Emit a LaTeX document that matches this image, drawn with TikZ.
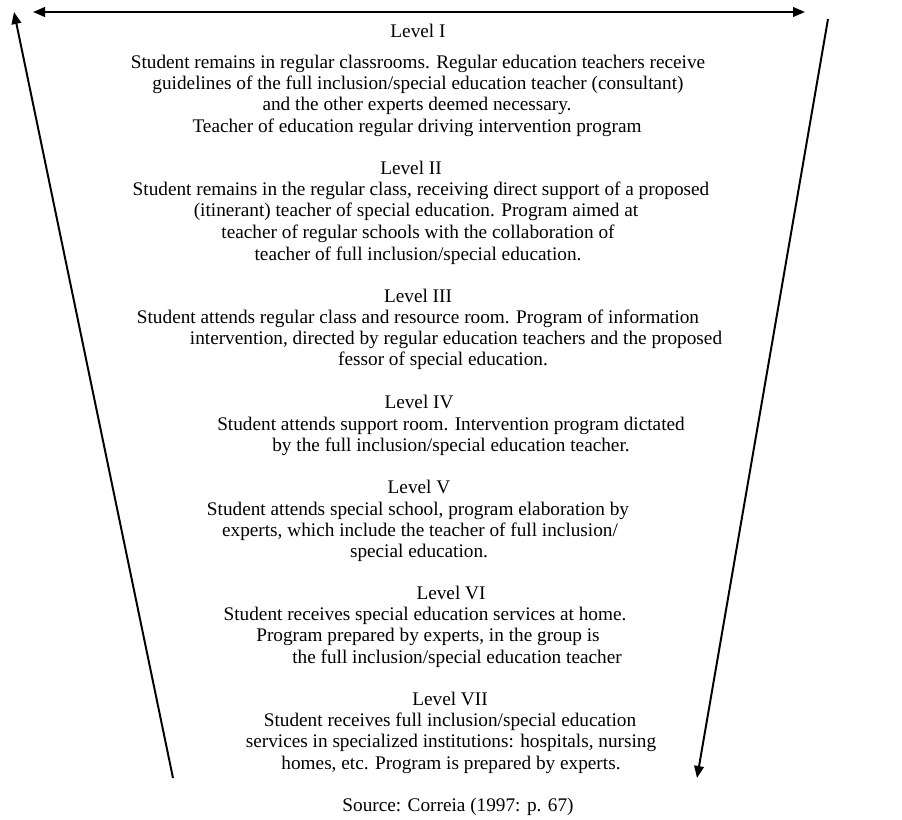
\documentclass[tikz,border=0pt]{standalone}
\usepackage{fontspec}
\setmainfont{Liberation Serif}
\usetikzlibrary{arrows.meta}
\tikzset{
  txt/.style={inner sep=0pt,text height=1.6ex,text depth=0.45ex,yshift=-0.7mm,font=\fontsize{13.7}{16}\selectfont},
  arr/.style={draw=black,line width=1.4pt,-{Triangle[length=3mm,width=2.4mm]}},
  darr/.style={draw=black,line width=1.4pt,{Triangle[length=3mm,width=2.4mm]}-{Triangle[length=3mm,width=2.4mm]}},
}

\begin{document}
\begin{tikzpicture}[x=0.25mm,y=-0.25mm]
\useasboundingbox (0,0) rectangle (902,820);
\coordinate (a1) at (33,12);
\coordinate (a2) at (805,12);
\coordinate (l1) at (173,778);
\coordinate (l2) at (14,12);
\coordinate (r1) at (828,19);
\coordinate (r2) at (697,778);
\draw[darr] (a1) -- (a2);
\draw[arr] (l1) -- (l2);
\draw[arr] (r1) -- (r2);
% Level I
\node[txt] (h1) at (418,31) {Level I};
\node[txt] (n11) at (418,62) {Student remains in regular classrooms. Regular education teachers receive};
\node[txt] (n12) at (418,83) {guidelines of the full inclusion/special education teacher (consultant)};
\node[txt] (n13) at (417,104) {and the other experts deemed necessary.};
\node[txt] (n14) at (417,126) {Teacher of education regular driving intervention program};
% Level II
\node[txt] (h2) at (411,168) {Level II};
\node[txt] (n21) at (421,189) {Student remains in the regular class, receiving direct support of a proposed};
\node[txt] (n22) at (416,210) {(itinerant) teacher of special education. Program aimed at};
\node[txt] (n23) at (418,232) {teacher of regular schools with the collaboration of};
\node[txt] (n24) at (418,254) {teacher of full inclusion/special education.};
% Level III
\node[txt] (h3) at (418,296) {Level III};
\node[txt] (n31) at (418,317) {Student attends regular class and resource room. Program of information};
\node[txt] (n32) at (456,338) {intervention, directed by regular education teachers and the proposed};
\node[txt] (n33) at (443,359) {fessor of special education.};
% Level IV
\node[txt] (h4) at (419,402) {Level IV};
\node[txt] (n41) at (451,424) {Student attends support room. Intervention program dictated};
\node[txt] (n42) at (451,445) {by the full inclusion/special education teacher.};
% Level V
\node[txt] (h5) at (419,487) {Level V};
\node[txt] (n51) at (418,509) {Student attends special school, program elaboration by};
\node[txt] (n52) at (420,530) {experts, which include the teacher of full inclusion/};
\node[txt] (n53) at (419,551) {special education.};
% Level VI
\node[txt] (h6) at (451,593) {Level VI};
\node[txt] (n61) at (425,614) {Student receives special education services at home.};
\node[txt] (n62) at (428,635) {Program prepared by experts, in the group is};
\node[txt] (n63) at (457,657) {the full inclusion/special education teacher};
% Level VII
\node[txt] (h7) at (450,699) {Level VII};
\node[txt] (n71) at (450,720) {Student receives full inclusion/special education};
\node[txt] (n72) at (451,741) {services in specialized institutions: hospitals, nursing};
\node[txt] (n73) at (451,763) {homes, etc. Program is prepared by experts.};
\node[txt] (src) at (458,805) {Source: Correia (1997: p. 67)};
\end{tikzpicture}
\end{document}
